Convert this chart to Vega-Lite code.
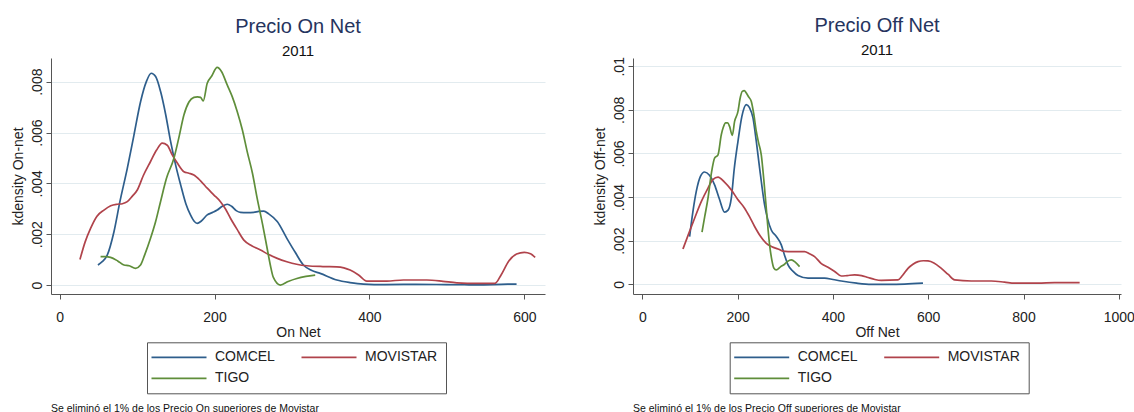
{
  "$schema": "https://vega.github.io/schema/vega-lite/v6.json",
  "background": "white",
  "padding": {"left": 11, "top": 15, "right": 2, "bottom": 0},
  "config": {
    "font": "Liberation Sans",
    "view": {"stroke": null},
    "axis": {
      "labelFont": "Liberation Sans", "titleFont": "Liberation Sans",
      "labelFontSize": 14, "titleFontSize": 14, "titleFontWeight": "normal",
      "labelColor": "#222222", "titleColor": "#222222",
      "domainColor": "#555555", "tickColor": "#555555", "tickSize": 5,
      "gridColor": "#e2ebef", "gridWidth": 1
    },
    "axisX": {"labelPadding": 11, "titlePadding": 1, "grid": false, "labelFlush": false, "format": "d"},
    "axisY": {"labelPadding": 2, "titlePadding": 5, "grid": true, "labelAngle": -90},
    "title": {
      "font": "Liberation Sans", "fontSize": 20, "fontWeight": "normal", "color": "#26345e",
      "subtitleFont": "Liberation Sans", "subtitleFontSize": 15, "subtitleColor": "#111111",
      "subtitlePadding": 7, "offset": -1, "frame": "group", "anchor": "middle"
    },
    "legend": {
      "orient": "none", "legendX": 96, "legendY": 284.3, "columns": 2, "direction": "horizontal",
      "symbolType": "M-5,0H5", "symbolSize": 121, "symbolStrokeWidth": 1.7, "symbolOffset": 17,
      "labelFont": "Liberation Sans", "labelFontSize": 14, "labelColor": "#222222",
      "strokeColor": "#555555", "padding": 8, "columnPadding": 23, "rowPadding": 7,
      "labelOffset": 29
    }
  },
  "datasets": {
    "on": [
      {"c":"COMCEL","x":49.5,"d":0.00079},{"c":"COMCEL","x":55,"d":0.00092},{"c":"COMCEL","x":61.5,"d":0.00118},{"c":"COMCEL","x":70.2,"d":0.0021},{"c":"COMCEL","x":78,"d":0.0033},{"c":"COMCEL","x":87.4,"d":0.00459},{"c":"COMCEL","x":96,"d":0.0059},{"c":"COMCEL","x":104.6,"d":0.00722},{"c":"COMCEL","x":112,"d":0.008},{"c":"COMCEL","x":118.3,"d":0.00833},{"c":"COMCEL","x":124,"d":0.0082},{"c":"COMCEL","x":130.4,"d":0.00761},{"c":"COMCEL","x":137,"d":0.0067},{"c":"COMCEL","x":143.3,"d":0.00565},{"c":"COMCEL","x":150,"d":0.0047},{"c":"COMCEL","x":156.3,"d":0.00394},{"c":"COMCEL","x":163,"d":0.0032},{"c":"COMCEL","x":169,"d":0.00276},{"c":"COMCEL","x":174,"d":0.0025},{"c":"COMCEL","x":177.7,"d":0.00243},{"c":"COMCEL","x":183,"d":0.00252},{"c":"COMCEL","x":190.6,"d":0.00276},{"c":"COMCEL","x":197,"d":0.00285},{"c":"COMCEL","x":203.5,"d":0.00295},{"c":"COMCEL","x":210,"d":0.0031},{"c":"COMCEL","x":216.4,"d":0.00318},{"c":"COMCEL","x":222,"d":0.0031},{"c":"COMCEL","x":228,"d":0.00293},{"c":"COMCEL","x":233.5,"d":0.00286},{"c":"COMCEL","x":242,"d":0.00285},{"c":"COMCEL","x":250.8,"d":0.00286},{"c":"COMCEL","x":257,"d":0.0029},{"c":"COMCEL","x":263.7,"d":0.00291},{"c":"COMCEL","x":270,"d":0.0028},{"c":"COMCEL","x":281,"d":0.0025},{"c":"COMCEL","x":293.4,"d":0.00184},{"c":"COMCEL","x":304,"d":0.0013},{"c":"COMCEL","x":314.8,"d":0.00079},{"c":"COMCEL","x":325,"d":0.00058},{"c":"COMCEL","x":336.4,"d":0.00046},{"c":"COMCEL","x":357.9,"d":0.0002},{"c":"COMCEL","x":375,"d":0.0001},{"c":"COMCEL","x":392.3,"d":0.00004},{"c":"COMCEL","x":420,"d":0.00002},{"c":"COMCEL","x":460,"d":0.00003},{"c":"COMCEL","x":500,"d":0.00002},{"c":"COMCEL","x":540,"d":0.00001},{"c":"COMCEL","x":570,"d":0.00003},{"c":"COMCEL","x":590,"d":0.00004},
      {"c":"MOVISTAR","x":26.3,"d":0.00101},{"c":"MOVISTAR","x":33,"d":0.0017},{"c":"MOVISTAR","x":40,"d":0.00223},{"c":"MOVISTAR","x":48,"d":0.0027},{"c":"MOVISTAR","x":57.3,"d":0.00295},{"c":"MOVISTAR","x":66,"d":0.00312},{"c":"MOVISTAR","x":74.5,"d":0.00318},{"c":"MOVISTAR","x":81,"d":0.0032},{"c":"MOVISTAR","x":87.4,"d":0.00328},{"c":"MOVISTAR","x":94,"d":0.0035},{"c":"MOVISTAR","x":100.3,"d":0.00374},{"c":"MOVISTAR","x":108,"d":0.0043},{"c":"MOVISTAR","x":117.4,"d":0.00486},{"c":"MOVISTAR","x":125,"d":0.0053},{"c":"MOVISTAR","x":132.5,"d":0.00558},{"c":"MOVISTAR","x":139,"d":0.0055},{"c":"MOVISTAR","x":145.4,"d":0.00512},{"c":"MOVISTAR","x":152,"d":0.0048},{"c":"MOVISTAR","x":160.5,"d":0.00446},{"c":"MOVISTAR","x":167,"d":0.0044},{"c":"MOVISTAR","x":173.4,"d":0.00433},{"c":"MOVISTAR","x":182,"d":0.0041},{"c":"MOVISTAR","x":190.6,"d":0.00381},{"c":"MOVISTAR","x":199,"d":0.00355},{"c":"MOVISTAR","x":207.7,"d":0.00328},{"c":"MOVISTAR","x":214,"d":0.003},{"c":"MOVISTAR","x":220.6,"d":0.00263},{"c":"MOVISTAR","x":229,"d":0.0022},{"c":"MOVISTAR","x":237.9,"d":0.00177},{"c":"MOVISTAR","x":248,"d":0.00155},{"c":"MOVISTAR","x":259.4,"d":0.00138},{"c":"MOVISTAR","x":270,"d":0.0012},{"c":"MOVISTAR","x":281,"d":0.00105},{"c":"MOVISTAR","x":293.4,"d":0.00092},{"c":"MOVISTAR","x":306,"d":0.00082},{"c":"MOVISTAR","x":319.2,"d":0.00076},{"c":"MOVISTAR","x":340,"d":0.00073},{"c":"MOVISTAR","x":357.9,"d":0.00072},{"c":"MOVISTAR","x":367,"d":0.00068},{"c":"MOVISTAR","x":375.1,"d":0.00059},{"c":"MOVISTAR","x":386,"d":0.0004},{"c":"MOVISTAR","x":396.6,"d":0.00016},{"c":"MOVISTAR","x":422.5,"d":0.00016},{"c":"MOVISTAR","x":443.9,"d":0.0002},{"c":"MOVISTAR","x":474.1,"d":0.0002},{"c":"MOVISTAR","x":495,"d":0.00015},{"c":"MOVISTAR","x":512.8,"d":0.00009},{"c":"MOVISTAR","x":540,"d":0.00007},{"c":"MOVISTAR","x":562.2,"d":0.00007},{"c":"MOVISTAR","x":570,"d":0.0004},{"c":"MOVISTAR","x":580,"d":0.00095},{"c":"MOVISTAR","x":590,"d":0.00122},{"c":"MOVISTAR","x":600,"d":0.00129},{"c":"MOVISTAR","x":608,"d":0.00123},{"c":"MOVISTAR","x":614,"d":0.00109},
      {"c":"TIGO","x":52.9,"d":0.00112},{"c":"TIGO","x":59,"d":0.00112},{"c":"TIGO","x":65.8,"d":0.00109},{"c":"TIGO","x":75,"d":0.00095},{"c":"TIGO","x":83.1,"d":0.00079},{"c":"TIGO","x":90,"d":0.00076},{"c":"TIGO","x":98.1,"d":0.00066},{"c":"TIGO","x":104.5,"d":0.00079},{"c":"TIGO","x":110,"d":0.0012},{"c":"TIGO","x":117.4,"d":0.00184},{"c":"TIGO","x":124,"d":0.0025},{"c":"TIGO","x":130.3,"d":0.00328},{"c":"TIGO","x":138,"d":0.0042},{"c":"TIGO","x":147.6,"d":0.00499},{"c":"TIGO","x":154,"d":0.0058},{"c":"TIGO","x":160.5,"d":0.00669},{"c":"TIGO","x":167,"d":0.0072},{"c":"TIGO","x":173.4,"d":0.00738},{"c":"TIGO","x":178,"d":0.0074},{"c":"TIGO","x":182,"d":0.00738},{"c":"TIGO","x":185.4,"d":0.00724},{"c":"TIGO","x":190.6,"d":0.00794},{"c":"TIGO","x":196,"d":0.0082},{"c":"TIGO","x":203.5,"d":0.00856},{"c":"TIGO","x":209,"d":0.0084},{"c":"TIGO","x":216.4,"d":0.00787},{"c":"TIGO","x":223,"d":0.0074},{"c":"TIGO","x":229.3,"d":0.00683},{"c":"TIGO","x":236,"d":0.0061},{"c":"TIGO","x":242.2,"d":0.00525},{"c":"TIGO","x":249,"d":0.0044},{"c":"TIGO","x":255.1,"d":0.00341},{"c":"TIGO","x":262,"d":0.0024},{"c":"TIGO","x":268,"d":0.00144},{"c":"TIGO","x":272,"d":0.0008},{"c":"TIGO","x":276,"d":0.0003},{"c":"TIGO","x":285,"d":0.0},{"c":"TIGO","x":295,"d":0.00014},{"c":"TIGO","x":306.3,"d":0.00026},{"c":"TIGO","x":318,"d":0.00034},{"c":"TIGO","x":330,"d":0.00039}
    ],
    "off": [
      {"c":"COMCEL","x":99.3,"d":0.00219},{"c":"COMCEL","x":106,"d":0.0033},{"c":"COMCEL","x":113.3,"d":0.00426},{"c":"COMCEL","x":122,"d":0.00495},{"c":"COMCEL","x":130.7,"d":0.00515},{"c":"COMCEL","x":141,"d":0.005},{"c":"COMCEL","x":151.7,"d":0.00456},{"c":"COMCEL","x":162,"d":0.0039},{"c":"COMCEL","x":172.7,"d":0.00331},{"c":"COMCEL","x":180,"d":0.0034},{"c":"COMCEL","x":186.8,"d":0.00395},{"c":"COMCEL","x":193,"d":0.0053},{"c":"COMCEL","x":200.8,"d":0.00656},{"c":"COMCEL","x":209,"d":0.0077},{"c":"COMCEL","x":218.3,"d":0.00824},{"c":"COMCEL","x":225,"d":0.0081},{"c":"COMCEL","x":232.3,"d":0.00763},{"c":"COMCEL","x":239,"d":0.0066},{"c":"COMCEL","x":246.2,"d":0.00533},{"c":"COMCEL","x":256.7,"d":0.00364},{"c":"COMCEL","x":263,"d":0.003},{"c":"COMCEL","x":270.7,"d":0.00249},{"c":"COMCEL","x":281,"d":0.0022},{"c":"COMCEL","x":291.7,"d":0.00181},{"c":"COMCEL","x":299,"d":0.0013},{"c":"COMCEL","x":305.8,"d":0.00089},{"c":"COMCEL","x":316,"d":0.0006},{"c":"COMCEL","x":326.8,"d":0.0004},{"c":"COMCEL","x":347.8,"d":0.00028},{"c":"COMCEL","x":382.6,"d":0.00028},{"c":"COMCEL","x":400,"d":0.00022},{"c":"COMCEL","x":417.6,"d":0.00015},{"c":"COMCEL","x":450,"d":0.00005},{"c":"COMCEL","x":480.6,"d":0.0},{"c":"COMCEL","x":515.6,"d":0.0},{"c":"COMCEL","x":550.5,"d":0.00001},{"c":"COMCEL","x":589,"d":0.00005},
      {"c":"MOVISTAR","x":85.4,"d":0.00162},{"c":"MOVISTAR","x":97,"d":0.0023},{"c":"MOVISTAR","x":109.8,"d":0.00303},{"c":"MOVISTAR","x":124,"d":0.0038},{"c":"MOVISTAR","x":137.9,"d":0.00441},{"c":"MOVISTAR","x":148,"d":0.0048},{"c":"MOVISTAR","x":158.9,"d":0.00492},{"c":"MOVISTAR","x":172,"d":0.0047},{"c":"MOVISTAR","x":186.8,"d":0.00433},{"c":"MOVISTAR","x":200,"d":0.0039},{"c":"MOVISTAR","x":214.7,"d":0.00349},{"c":"MOVISTAR","x":225,"d":0.0031},{"c":"MOVISTAR","x":235.7,"d":0.00265},{"c":"MOVISTAR","x":248,"d":0.0022},{"c":"MOVISTAR","x":260.2,"d":0.00188},{"c":"MOVISTAR","x":272,"d":0.00172},{"c":"MOVISTAR","x":284.8,"d":0.00162},{"c":"MOVISTAR","x":295,"d":0.00152},{"c":"MOVISTAR","x":305.8,"d":0.0015},{"c":"MOVISTAR","x":325,"d":0.0015},{"c":"MOVISTAR","x":340.6,"d":0.0015},{"c":"MOVISTAR","x":351,"d":0.0014},{"c":"MOVISTAR","x":361.6,"d":0.00127},{"c":"MOVISTAR","x":375.7,"d":0.00095},{"c":"MOVISTAR","x":389.7,"d":0.00078},{"c":"MOVISTAR","x":403,"d":0.0006},{"c":"MOVISTAR","x":417.6,"d":0.00038},{"c":"MOVISTAR","x":430,"d":0.0004},{"c":"MOVISTAR","x":445.6,"d":0.00043},{"c":"MOVISTAR","x":460,"d":0.0004},{"c":"MOVISTAR","x":473.7,"d":0.00031},{"c":"MOVISTAR","x":488,"d":0.00022},{"c":"MOVISTAR","x":501.6,"d":0.00018},{"c":"MOVISTAR","x":536.6,"d":0.0002},{"c":"MOVISTAR","x":546,"d":0.0004},{"c":"MOVISTAR","x":557.6,"d":0.00073},{"c":"MOVISTAR","x":568,"d":0.00092},{"c":"MOVISTAR","x":578.6,"d":0.00104},{"c":"MOVISTAR","x":590,"d":0.00108},{"c":"MOVISTAR","x":599.6,"d":0.00107},{"c":"MOVISTAR","x":612,"d":0.00098},{"c":"MOVISTAR","x":627.5,"d":0.00073},{"c":"MOVISTAR","x":642,"d":0.00045},{"c":"MOVISTAR","x":655.4,"d":0.0002},{"c":"MOVISTAR","x":690.5,"d":0.00015},{"c":"MOVISTAR","x":732.4,"d":0.00015},{"c":"MOVISTAR","x":760,"d":0.0001},{"c":"MOVISTAR","x":781.3,"d":0.00005},{"c":"MOVISTAR","x":830.4,"d":0.00005},{"c":"MOVISTAR","x":865.3,"d":0.00008},{"c":"MOVISTAR","x":917.8,"d":0.00008},
      {"c":"TIGO","x":125.3,"d":0.00239},{"c":"TIGO","x":131,"d":0.0031},{"c":"TIGO","x":137.9,"d":0.00395},{"c":"TIGO","x":145,"d":0.0051},{"c":"TIGO","x":151.7,"d":0.00579},{"c":"TIGO","x":158.9,"d":0.00594},{"c":"TIGO","x":165.8,"d":0.00686},{"c":"TIGO","x":170,"d":0.0072},{"c":"TIGO","x":174.8,"d":0.0074},{"c":"TIGO","x":179,"d":0.0074},{"c":"TIGO","x":183.2,"d":0.00724},{"c":"TIGO","x":188.9,"d":0.00683},{"c":"TIGO","x":193.7,"d":0.00747},{"c":"TIGO","x":200.8,"d":0.00793},{"c":"TIGO","x":205,"d":0.0085},{"c":"TIGO","x":209.9,"d":0.00885},{"c":"TIGO","x":214,"d":0.00888},{"c":"TIGO","x":218.3,"d":0.00877},{"c":"TIGO","x":223,"d":0.0086},{"c":"TIGO","x":228.8,"d":0.00839},{"c":"TIGO","x":234,"d":0.0078},{"c":"TIGO","x":239.2,"d":0.00702},{"c":"TIGO","x":244,"d":0.0065},{"c":"TIGO","x":249.7,"d":0.00594},{"c":"TIGO","x":255,"d":0.0048},{"c":"TIGO","x":260.2,"d":0.00349},{"c":"TIGO","x":264,"d":0.0025},{"c":"TIGO","x":267.2,"d":0.00181},{"c":"TIGO","x":272,"d":0.0011},{"c":"TIGO","x":276,"d":0.00075},{"c":"TIGO","x":281.2,"d":0.00066},{"c":"TIGO","x":290,"d":0.0008},{"c":"TIGO","x":298.6,"d":0.00092},{"c":"TIGO","x":305,"d":0.00105},{"c":"TIGO","x":312.7,"d":0.00112},{"c":"TIGO","x":321,"d":0.00102},{"c":"TIGO","x":330.1,"d":0.00081}
    ]
  },
  "spacing": 48,
  "resolve": {"scale": {"color": "independent"}, "legend": {"color": "independent"}},
  "hconcat": [
    {
      "title": {"text": "Se eliminó el 1% de los Precio On superiores de Movistar", "orient": "bottom", "anchor": "start", "frame": "group", "fontSize": 10.5, "color": "#111111", "offset": 10},
      "resolve": {"scale": {"color": "independent"}, "legend": {"color": "independent"}},
      "vconcat": [
        {
          "title": {"text": "Precio On Net", "subtitle": "2011"},
          "width": 494, "height": 236,
          "data": {"name": "on"},
          "mark": {"type": "line", "interpolate": "monotone", "strokeWidth": 1.7},
          "encoding": {
            "x": {"field": "x", "type": "quantitative", "title": "On Net",
                  "scale": {"domain": [-11.1, 626.7], "nice": false, "zero": false},
                  "axis": {"values": [0, 200, 400, 600]}},
            "y": {"field": "d", "type": "quantitative", "title": "kdensity On-net",
                  "scale": {"domain": [-0.00035, 0.00893], "nice": false, "zero": false},
                  "axis": {"values": [0, 0.002, 0.004, 0.006, 0.008], "labelExpr": "replace(toString(datum.value), '0.', '.')"}},
            "color": {"field": "c", "type": "nominal",
                      "scale": {"domain": ["COMCEL", "MOVISTAR", "TIGO"], "range": ["#2e5e8c", "#b0434b", "#5f8e3a"]},
                      "legend": {"title": null}}
          }
        }
      ]
    },
    {
      "title": {"text": "Se eliminó el 1% de los Precio Off superiores de Movistar", "orient": "bottom", "anchor": "start", "frame": "group", "fontSize": 10.5, "color": "#111111", "offset": 10},
      "resolve": {"scale": {"color": "independent"}, "legend": {"color": "independent"}},
      "vconcat": [
        {
          "title": {"text": "Precio Off Net", "subtitle": "2011"},
          "width": 488, "height": 236,
          "data": {"name": "off"},
          "mark": {"type": "line", "interpolate": "monotone", "strokeWidth": 1.7},
          "encoding": {
            "x": {"field": "x", "type": "quantitative", "title": "Off Net",
                  "scale": {"domain": [-19.5, 1004.6], "nice": false, "zero": false},
                  "axis": {"values": [0, 200, 400, 600, 800, 1000]}},
            "y": {"field": "d", "type": "quantitative", "title": "kdensity Off-net",
                  "scale": {"domain": [-0.000446, 0.01038], "nice": false, "zero": false},
                  "axis": {"values": [0, 0.002, 0.004, 0.006, 0.008, 0.01], "labelExpr": "replace(toString(datum.value), '0.', '.')"}},
            "color": {"field": "c", "type": "nominal",
                      "scale": {"domain": ["COMCEL", "MOVISTAR", "TIGO"], "range": ["#2e5e8c", "#b0434b", "#5f8e3a"]},
                      "legend": {"title": null, "legendX": 96.7}}
          }
        }
      ]
    }
  ]
}
